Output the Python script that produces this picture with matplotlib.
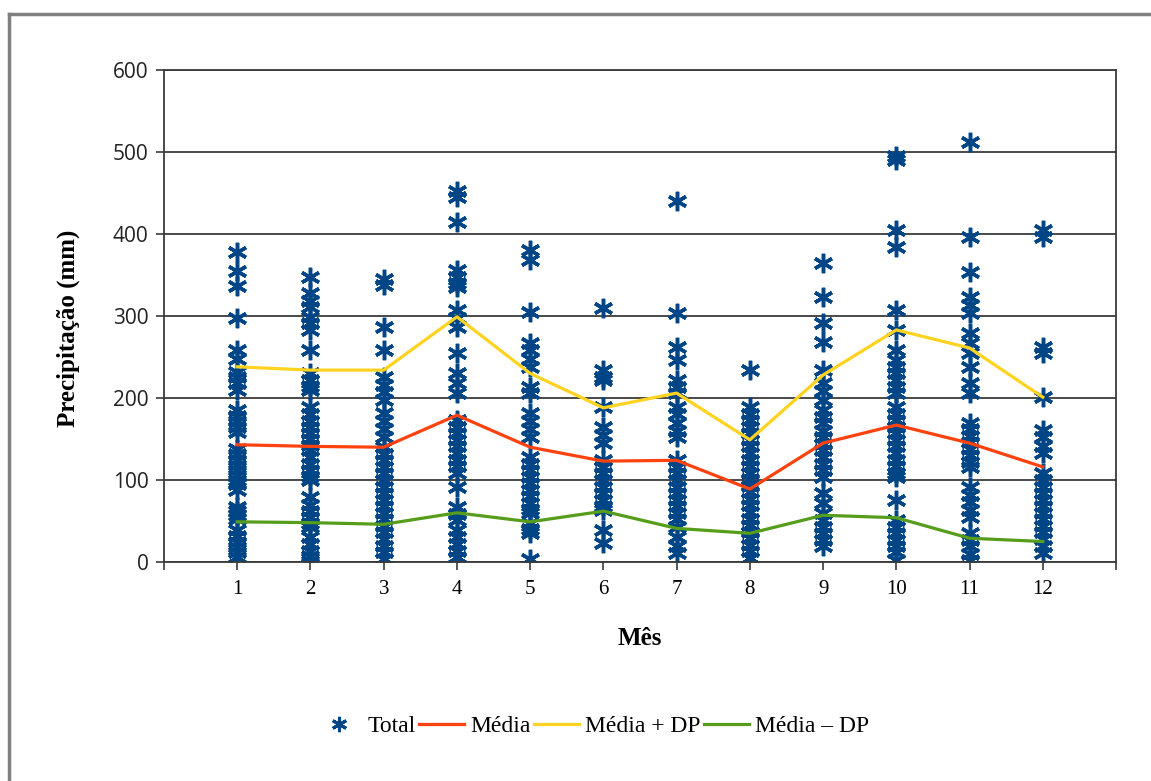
import matplotlib.pyplot as plt
from matplotlib.lines import Line2D

plt.rcParams['font.family'] = ['Liberation Serif', 'DejaVu Serif']

# monthly precipitation (mm), one list per month
months = [1, 2, 3, 4, 5, 6, 7, 8, 9, 10, 11, 12]
total = {
    1: [378, 355, 336, 298, 258, 248, 232, 225, 218, 210, 185, 178, 172, 165, 158,
        138, 132, 125, 118, 112, 106, 100, 95, 88, 67, 62, 57, 52, 39, 32, 25, 18, 12, 6],
    2: [348, 328, 318, 311, 299, 291, 283, 258, 230, 222, 215, 210, 189, 180, 172, 165,
        157, 150, 143, 136, 128, 120, 112, 105, 100, 79, 70, 62, 55, 48, 43, 30, 22, 14, 7, 1],
    3: [345, 338, 287, 258, 225, 216, 207, 198, 182, 172, 162, 152, 140, 132, 124, 116,
        108, 100, 92, 84, 76, 68, 60, 52, 44, 36, 28, 20, 12, 4],
    4: [453, 445, 415, 356, 348, 340, 335, 307, 297, 287, 255, 230, 218, 206, 173, 165,
        157, 149, 141, 133, 125, 117, 108, 91, 67, 59, 51, 39, 30, 22, 14, 6],
    5: [380, 368, 305, 267, 258, 248, 238, 213, 206, 182, 172, 162, 152, 128, 120, 112,
        104, 96, 88, 80, 72, 65, 60, 48, 40, 35, 4],
    6: [310, 234, 226, 222, 189, 165, 155, 145, 124, 116, 108, 100, 92, 84, 76, 68, 63, 39, 23],
    7: [440, 304, 262, 246, 222, 214, 206, 189, 180, 170, 160, 152, 124, 116, 108, 100,
        92, 84, 76, 68, 60, 52, 43, 30, 20, 11],
    8: [234, 189, 180, 173, 165, 157, 149, 141, 133, 125, 117, 109, 101, 93, 85, 77, 69,
        61, 53, 45, 37, 29, 21, 13, 5],
    9: [365, 323, 291, 268, 234, 218, 208, 198, 185, 177, 169, 160, 152, 144, 136, 128,
        120, 112, 104, 84, 72, 60, 51, 43, 35, 27, 20],
    10: [495, 490, 405, 384, 307, 283, 258, 246, 238, 230, 222, 214, 206, 189, 181, 173,
         165, 157, 149, 141, 133, 125, 117, 109, 104, 76, 51, 43, 35, 27, 20, 12, 2],
    11: [512, 396, 354, 323, 313, 304, 279, 267, 255, 238, 218, 206, 170, 162, 154, 146,
         138, 130, 122, 116, 91, 82, 73, 64, 55, 35, 27, 19, 10, 2],
    12: [405, 396, 262, 255, 201, 161, 152, 142, 133, 108, 100, 92, 84, 76, 68, 60, 52,
         44, 36, 28, 20, 11],
}
media = [143, 141, 140, 179, 140, 123, 124, 89, 145, 167, 145, 116]
media_mais_dp = [238, 234, 234, 299, 230, 188, 206, 149, 228, 283, 261, 201]
media_menos_dp = [49, 48, 46, 60, 49, 62, 41, 35, 57, 54, 29, 25]

blue = '#004586'
red = '#FF420E'
yellow = '#FFD320'
green = '#579D1C'
star = (6, 2, 0)

fig = plt.figure(figsize=(11.51, 7.81), dpi=100)
ax = fig.add_axes([0.1425, 0.2804, 0.9696 - 0.1425, 0.9104 - 0.2804])

# figure frame (only top and left edges visible in reference)
fig.add_artist(Line2D([9 / 1151, 9 / 1151], [0, 1 - 14 / 781], transform=fig.transFigure,
                      color='#808080', lw=2.5))
fig.add_artist(Line2D([9 / 1151, 1.0], [1 - 14 / 781, 1 - 14 / 781], transform=fig.transFigure,
                      color='#808080', lw=2.5))

ax.set_axisbelow(True)
ax.grid(axis='y', color='#3a3a3a', lw=1.3)

xs, ys = [], []
for m in months:
    for v in total[m]:
        xs.append(m)
        ys.append(v)
ax.plot(xs, ys, ls='none', marker=star, ms=14, mew=2.5, color=blue, zorder=2)

ax.plot(months, media, color=red, lw=2.3, zorder=3)
ax.plot(months, media_mais_dp, color=yellow, lw=2.3, zorder=3)
ax.plot(months, media_menos_dp, color=green, lw=2.3, zorder=3)

ax.set_xlim(0, 13)
ax.set_ylim(0, 600)
ax.set_xticks(range(0, 14))
ax.set_xticklabels([''] + [str(m) for m in months] + [''])
ax.set_yticks(range(0, 601, 100))
ax.tick_params(axis='both', length=6, width=1.2, color='#3a3a3a')
ax.tick_params(axis='x', labelsize=15, pad=7)
ax.tick_params(axis='y', labelsize=15, pad=5)
for lab in ax.get_yticklabels():
    lab.set_family('Open Sans')
    lab.set_color('#222222')
for s in ax.spines.values():
    s.set_color('#3a3a3a')
    s.set_linewidth(1.3)

ax.set_xlabel('Mês', fontsize=18, fontweight='bold', labelpad=20)
ax.set_ylabel('Precipitação (mm)', fontsize=18, fontweight='bold')
ax.yaxis.set_label_coords(-0.088, 0.475)

handles = [
    Line2D([], [], ls='none', marker=star, ms=11, mew=2.2, color=blue),
    Line2D([], [], color=red, lw=2.3),
    Line2D([], [], color=yellow, lw=2.3),
    Line2D([], [], color=green, lw=2.3),
]
fig.legend(handles, ['Total', 'Média', 'Média + DP', 'Média – DP'], loc='center',
           bbox_to_anchor=(0.515, 1 - 726 / 781), ncol=4, frameon=False, fontsize=17,
           handlelength=1.9, handletextpad=0.25, columnspacing=0.15)

fig.savefig('out.png', dpi=100)
